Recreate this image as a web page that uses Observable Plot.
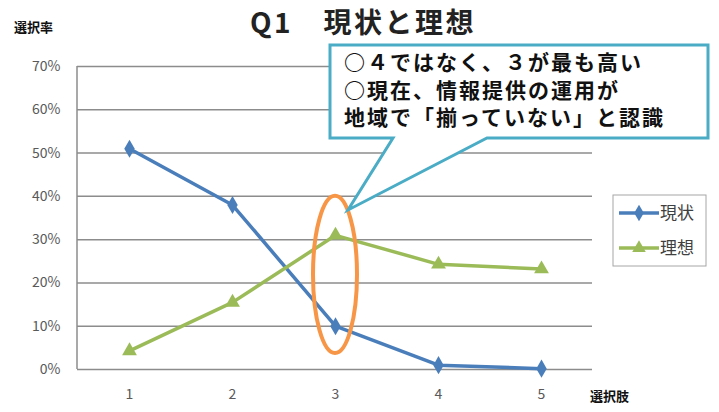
<!DOCTYPE html>
<html><head><meta charset="utf-8">
<script src="https://cdn.jsdelivr.net/npm/d3@7"></script>
<script src="https://cdn.jsdelivr.net/npm/@observablehq/plot@0.6"></script>
<style>body{margin:0;background:#fff;} svg{display:block;}</style>
</head><body><div id="chart"></div>
<script>
const choices = [1, 2, 3, 4, 5];
const currentValues = [0.51, 0.38, 0.10, 0.01, 0.002];
const idealValues = [0.043, 0.155, 0.31, 0.243, 0.232];
const yTicks = [0, 0.1, 0.2, 0.3, 0.4, 0.5, 0.6, 0.7];
const seriesNames = ["現状", "理想"];
const seriesColors = ["#4a7ebb", "#9bbb59"];
const titleText = "Q1　現状と理想";
const yAxisTitle = "選択率";
const xAxisTitle = "選択肢";
const calloutLines = ["○４ではなく、３が最も高い", "○現在、情報提供の運用が", "地域で「揃っていない」と認識"];

const data = choices.flatMap((c, i) => [
  {choice: c, series: seriesNames[0], value: currentValues[i]},
  {choice: c, series: seriesNames[1], value: idealValues[i]}
]);
const font = "'Noto Sans CJK JP', 'Noto Sans', sans-serif";

const plot = Plot.plot({
  width: 719, height: 412,
  marginLeft: 77, marginRight: 127, marginTop: 66, marginBottom: 43,
  style: {fontFamily: font, fontSize: "14px", color: "#595959", background: "#fff"},
  x: {type: "point", domain: choices, padding: 0.5, label: null, tickSize: 0, tickPadding: 20},
  y: {domain: [0, 0.7], ticks: yTicks, tickFormat: d3.format(".0%"), label: null, tickSize: 0, tickPadding: 17},
  color: {domain: seriesNames, range: seriesColors},
  marks: [
    Plot.gridY(yTicks, {stroke: "#8c8c8c", strokeOpacity: 1, strokeWidth: 1.5}),
    Plot.line(data, {x: "choice", y: "value", stroke: "series", strokeWidth: 3.5}),
    Plot.dot(data.filter(d => d.series === seriesNames[0]), {x: "choice", y: "value", symbol: "diamond", r: 5.5, fill: seriesColors[0]}),
    Plot.dot(data.filter(d => d.series === seriesNames[1]), {x: "choice", y: "value", symbol: "triangle", r: 5.5, fill: seriesColors[1]})
  ]
});
document.getElementById("chart").append(plot);

const svg = d3.select(plot);
const xs = plot.scale("x"), ys = plot.scale("y");
const x0 = xs.range[0];
const txt = (x, y, size, weight, fill, s) => svg.append("text").attr("x", x).attr("y", y)
  .attr("font-family", font).attr("font-weight", weight).attr("font-size", size)
  .attr("fill", fill).attr("text-anchor", "start").text(s);

// left axis line
svg.append("line").attr("x1", x0).attr("x2", x0).attr("y1", ys.apply(0.7)).attr("y2", ys.apply(0))
  .attr("stroke", "#8c8c8c").attr("stroke-width", 1.5);

// titles
txt(250, 33, 28, "bold", "#222", titleText).attr("letter-spacing", 2.5);
txt(14, 32, 13, "bold", "#111", yAxisTitle);
txt(590, 401, 13, "bold", "#111", xAxisTitle);

// orange ellipse around choice 3
const cx = xs.apply(3), yTop = ys.apply(0.40), yBot = ys.apply(0.037);
svg.append("ellipse").attr("cx", cx).attr("cy", (yTop + yBot) / 2).attr("rx", 22).attr("ry", (yBot - yTop) / 2)
  .attr("fill", "none").attr("stroke", "#f79646").attr("stroke-width", 4);

// callout
svg.append("path").attr("d", "M330,45 H708 V138 H487 L348,210 L393,138 H330 Z")
  .attr("fill", "#fff").attr("stroke", "#4bacc6").attr("stroke-width", 3).attr("stroke-linejoin", "miter");
calloutLines.forEach((t, i) => txt(344, 70 + i * 27.5, 21, "bold", "#111", t).attr("letter-spacing", 2));

// legend
svg.append("rect").attr("x", 613).attr("y", 195).attr("width", 93).attr("height", 71)
  .attr("fill", "#fff").attr("stroke", "#a6a6a6").attr("stroke-width", 1);
const legSym = [d3.symbolDiamond, d3.symbolTriangle];
seriesNames.forEach((n, i) => {
  const y = 213 + i * 35;
  svg.append("line").attr("x1", 619).attr("x2", 659).attr("y1", y).attr("y2", y)
    .attr("stroke", seriesColors[i]).attr("stroke-width", 3.5);
  svg.append("path").attr("transform", `translate(639,${y})`)
    .attr("d", d3.symbol(legSym[i], 80)()).attr("fill", seriesColors[i]);
  txt(660, y + 6, 17, "normal", "#404040", n);
});
</script>
</body></html>
